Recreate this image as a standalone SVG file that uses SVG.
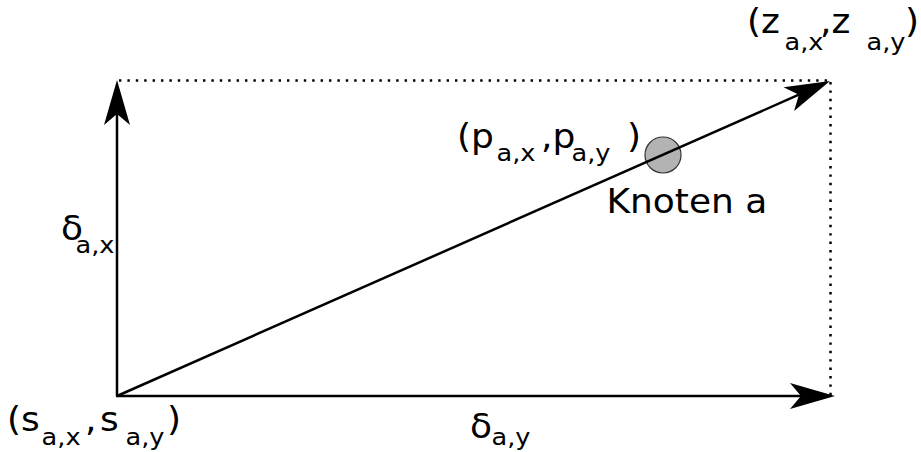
<svg xmlns="http://www.w3.org/2000/svg" width="921" height="452" viewBox="0 0 921 452">
<style>
text { font-family: "DejaVu Sans", "Liberation Sans", sans-serif; font-size: 33px; fill: #000; }
.sub { font-size: 23.5px; }
.edge { stroke: #000; stroke-width: 2.5; fill: none; }
.dot { stroke: #000; stroke-width: 2.5; fill: none; stroke-dasharray: 2.4 6; }
</style>
<defs>
<marker id="arrow" markerUnits="userSpaceOnUse" viewBox="-46 -14 47 28" markerWidth="47" markerHeight="28" refX="-34" refY="0" orient="auto" overflow="visible">
<path d="M0,0 L-45,-13 L-34,0 L-45,13 Z" fill="#000"/>
</marker>
</defs>
<rect width="921" height="452" fill="#fff"/>

<g id="node-a">
<circle cx="663" cy="155" r="18" fill="#b3b3b3" stroke="#333" stroke-width="1.2"/>
<text transform="translate(457,148) scale(1.09,1)">(p<tspan class="sub" x="36.2" dy="12.5">a,x</tspan><tspan x="77.1" dy="-12.5">,p</tspan><tspan class="sub" x="105" dy="12.5">a,y</tspan><tspan x="156" dy="-12.5">)</tspan></text>
<text transform="translate(606.5,212.5) scale(1.09,1)">Knoten a</text>
</g>

<g id="start">
<text transform="translate(7,431) scale(1.09,1)">(s<tspan class="sub" x="31.7" dy="14">a,x</tspan><tspan x="71.6" dy="-14">,</tspan><tspan x="85.3">s</tspan><tspan class="sub" x="108.7" dy="14">a,y</tspan><tspan x="146.8" dy="-14">)</tspan></text>
</g>

<g id="end">
<text transform="translate(747,33) scale(1.09,1)">(z<tspan class="sub" x="34.4" dy="17">a,x</tspan><tspan x="67" dy="-17">,z</tspan><tspan class="sub" x="109.6" dy="17">a,y</tspan><tspan x="145" dy="-17">)</tspan></text>
</g>

<g id="connectors">
<line class="dot" x1="119" y1="80.5" x2="830" y2="80.5"/>
<line class="dot" x1="830.5" y1="82" x2="830.5" y2="395"/>
<line class="edge" x1="117" y1="396" x2="117" y2="114" marker-end="url(#arrow)"/>
<line class="edge" x1="116" y1="396" x2="801" y2="396" marker-end="url(#arrow)"/>
<line class="edge" x1="117" y1="396" x2="798.9" y2="94.7" marker-end="url(#arrow)"/>
<text transform="translate(61,240) scale(1.09,1)">δ<tspan class="sub" x="13.3" dy="13">a,x</tspan></text>
<text transform="translate(470,438) scale(1.09,1)">δ<tspan class="sub" x="19.7" dy="7">a,y</tspan></text>
</g>
</svg>
